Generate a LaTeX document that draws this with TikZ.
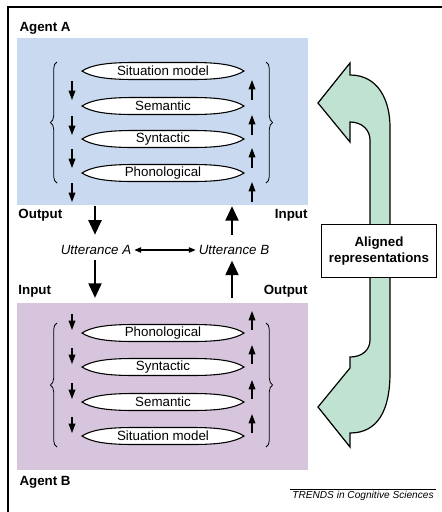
\documentclass[tikz,border=0pt]{standalone}
\usepackage{fontspec}
\setmainfont{Liberation Sans}
\usetikzlibrary{arrows.meta,decorations.pathreplacing}

\definecolor{agentblue}{RGB}{200,217,240}
\definecolor{agentpurple}{RGB}{215,196,221}
\definecolor{alignedgreen}{RGB}{191,226,209}

\tikzset{every picture/.style={line width=0.75pt}}
\tikzset{
  levelname/.style={font=\fontsize{10}{12}\selectfont, inner sep=0pt},
  lens/.style={draw, fill=white, line width=0.8pt},
  agentlbl/.style={font=\fontsize{10}{12}\selectfont\bfseries, inner sep=0pt, anchor=west},
  iolbl/.style={font=\fontsize{10}{12}\selectfont\bfseries, inner sep=0pt},
  utter/.style={font=\fontsize{10}{12}\selectfont\itshape, inner sep=2pt},
  smallarrow/.style={line width=0.9pt, -{Triangle[length=7pt,width=5pt]}},
  bigarrow/.style={line width=2.2pt, -{Triangle[length=11pt,width=9.5pt]}},
  bothways/.style={line width=0.8pt, {Triangle[length=5pt,width=4pt]}-{Triangle[length=5pt,width=4pt]}},
  layerbrace/.style={decorate, decoration={brace, amplitude=5pt}, line width=0.6pt},
}

% one processing level: name, x, y, text
\newcommand{\levelnode}[4]{%
  \begin{scope}[shift={(#2,#3)}]
    \draw[lens] (-81,0) .. controls (-72,-6) and (-56,-8.5) .. (-30,-8.5) -- (30,-8.5)
      .. controls (56,-8.5) and (72,-6) .. (81,0) .. controls (72,6) and (56,8.5) .. (30,8.5)
      -- (-30,8.5) .. controls (-56,8.5) and (-72,6) .. cycle;
    \node[levelname] (#1) at (0,0) {#4};
  \end{scope}}

\begin{document}
\begin{tikzpicture}[x=0.75pt,y=0.75pt,yscale=-1,xscale=1]
	\useasboundingbox (0,0) rectangle (442,512);
	
	%Frame
	\draw [line width=1pt] (8,512) -- (8,7) -- (442,7) ;
	
	%Shape: Rectangle agent A
	\fill [agentblue] (17,38) rectangle (308,205) ;
	%Shape: Rectangle agent B
	\fill [agentpurple] (17,303) rectangle (308,470) ;
	
	% Text Node
	\node [agentlbl] (agentA) at (19,28) {Agent A};
	% Text Node
	\node [agentlbl] (agentB) at (19,482) {Agent B};
	
	%Levels of agent A
	\levelnode{aSit}{163}{71}{Situation model}
	\levelnode{aSem}{163}{106}{Semantic}
	\levelnode{aSyn}{163}{139}{Syntactic}
	\levelnode{aPho}{163}{173}{Phonological}
	
	%Levels of agent B
	\levelnode{bPho}{163}{333}{Phonological}
	\levelnode{bSyn}{163}{367}{Syntactic}
	\levelnode{bSem}{163}{402}{Semantic}
	\levelnode{bSit}{163}{436}{Situation model}
	
	%Braces
	\draw [layerbrace] (57,183) -- (57,62) ;
	\draw [layerbrace] (266,62) -- (266,183) ;
	\draw [layerbrace] (57,447) -- (57,323) ;
	\draw [layerbrace] (266,323) -- (266,447) ;
	
	%Small arrows
	\foreach \y in {71,106,139,173}{
		\draw [smallarrow] (72,\y+10) -- (72,\y+29) ;
		\draw [smallarrow] (252,\y+29) -- (252,\y+9) ;
	}
	\foreach \y in {333,367,402,436}{
		\draw [smallarrow] (72,\y-19) -- (72,\y-3) ;
		\draw [smallarrow] (252,\y-3) -- (252,\y-22) ;
	}
	
	% Text Node
	\node [utter] (uttA) at (96,250) {Utterance A};
	% Text Node
	\node [utter] (uttB) at (234,250) {Utterance B};
	\draw [bothways] (uttA) -- (uttB) ;
	
	\coordinate (aOut) at (95,206) ;
	\coordinate (bIn) at (95,298) ;
	\coordinate (aIn) at (232,206) ;
	\coordinate (bOut) at (232,298) ;
	\draw [bigarrow, shorten >=5.5pt] (aOut) -- (uttA.north -| aOut) ;
	\draw [bigarrow, shorten <=2pt] (uttA.south -| bIn) -- (bIn) ;
	\draw [bigarrow, shorten <=5.5pt] (uttB.north -| aIn) -- (aIn) ;
	\draw [bigarrow, shorten >=2pt] (bOut) -- (uttB.south -| bOut) ;
	
	% Text Node
	\node [iolbl, anchor=west] (outA) at (18,215) {Output};
	% Text Node
	\node [iolbl, anchor=east] (inA) at (308,215) {Input};
	% Text Node
	\node [iolbl, anchor=west] (inB) at (18,291) {Input};
	% Text Node
	\node [iolbl, anchor=east] (outB) at (308,291) {Output};
	
	%Shape: Double curved arrow
	\draw [fill=alignedgreen, line width=0.9pt] (318,103) -- (350,63) -- (350,75)
		.. controls (378,75) and (390,100) .. (390,127) -- (390,373)
		.. controls (390,410) and (378,433) .. (350,433) -- (350,447) -- (318,407)
		-- (350,368) -- (350,357) .. controls (362,357) and (370,350) .. (370,340)
		-- (370,140) .. controls (370,130) and (362,122) .. (350,122) -- (350,142) -- cycle ;
	
	% Text Node
	\node [draw, fill=white, line width=0.8pt, align=center, font=\fontsize{10}{12}\selectfont\bfseries,
		minimum width=86pt, minimum height=40pt, inner sep=2pt] (aligned) at (379,251) {Aligned\\representations};
	
	% Text Node
	\node [font=\fontsize{7.6}{9}\selectfont\itshape, inner sep=1pt] (source) at (363,496) {TRENDS in Cognitive Sciences};
	\draw [line width=0.6pt] (source.north west) -- (source.north east) ;
	
\end{tikzpicture}
\end{document}
